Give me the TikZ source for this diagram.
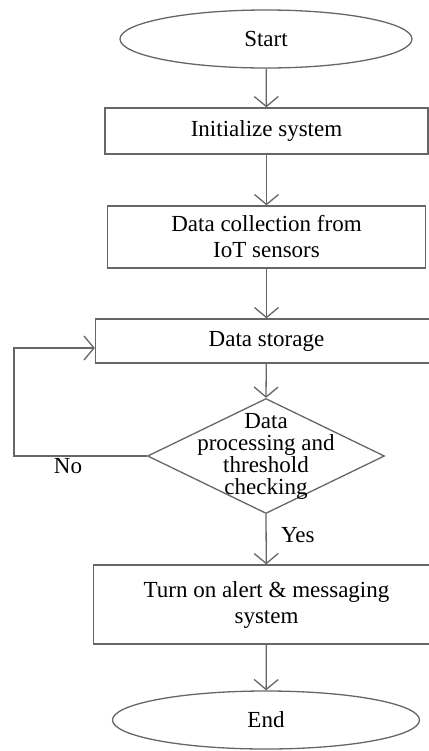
\documentclass[tikz,border=0pt]{standalone}
\usepackage{fontspec}
\setmainfont{Liberation Serif}
\usetikzlibrary{shapes.geometric,arrows.meta}
\begin{document}
\begin{tikzpicture}[x=1pt,y=1pt,
    font=\fontsize{11.5}{13}\selectfont,
    line/.style={draw=black!60,line width=0.65pt},
    term/.style={line,ellipse,inner sep=0pt},
    proc/.style={line,rectangle,inner sep=0pt,align=center},
    cond/.style={line,diamond,inner sep=0pt},
    flow/.style={-{Straight Barb[length=5pt,width=12pt]},draw=black!60,line width=0.65pt}]
  \useasboundingbox (0,0) rectangle (214.5,-375.5);
  \draw
    (133,-19.5) node[term,minimum width=146pt,minimum height=29pt] (start){Start}
    (133.25,-65.5) node[proc,minimum width=161.5pt,minimum height=23pt] (init){Initialize system}
    (133.25,-118.5) node[proc,minimum width=159pt,minimum height=31pt] (collect){Data collection from\\IoT sensors}
    (133.25,-170.5) node[proc,minimum width=171pt,minimum height=22pt] (storage){Data storage}
    (133,-228) node[cond,minimum width=118.5pt,minimum height=57.5pt] (check){}
    (133.25,-302.25) node[proc,minimum width=173pt,minimum height=39.5pt] (alert){Turn on alert \& messaging\\system}
    (133,-360) node[term,minimum width=153.5pt,minimum height=29pt] (end){End};
  \node[align=center,font=\fontsize{11.5}{11}\selectfont] (checktext) at (check) {Data\\processing and\\threshold\\checking};
  \coordinate (loopa) at (7,-228);
  \coordinate (loopb) at (7,-174);
  \coordinate (loopc) at (storage.west |- loopb);
  \begin{scope}[flow]
    \draw (start) to (init);
    \draw (init) to (collect);
    \draw (collect) to (storage);
    \draw (storage) to (check.north);
    \draw (check.south) to (alert);
    \draw (alert) to (end);
    \draw (check.west) -- (loopa) -- (loopb) -- (loopc);
  \end{scope}
  \node[anchor=west] (yes) at (137,-267.5) {Yes};
  \node (no) at (34,-233) {No};
\end{tikzpicture}
\end{document}
